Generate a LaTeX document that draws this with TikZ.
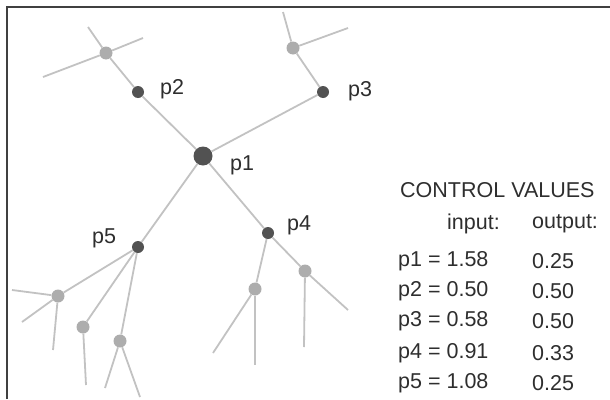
\documentclass[tikz,border=0pt]{standalone}
\usepackage{fontspec}
\setmainfont{Liberation Sans}
\usepackage{xcolor}
\usetikzlibrary{positioning}

\begin{document}
\begin{tikzpicture}[
  x=1pt, y=-1pt,
  hub/.style={circle, fill=black!68, inner sep=0pt, minimum size=12pt},
  bighub/.style={hub, minimum size=19pt},
  twig/.style={circle, fill=black!32, inner sep=0pt, minimum size=13pt},
  branch/.style={draw=black!24, line width=1.8pt},
  tag/.style={anchor=west, inner sep=0pt, font=\fontsize{21.5}{25}\selectfont, text=black!82},
  frameline/.style={draw=black!75, line width=2.2pt},
]
\useasboundingbox (0,0) rectangle (610,399);

% Frame (top and left edges)
\coordinate (fb) at (7,399);
\coordinate (fc) at (7,7);
\coordinate (fr) at (610,7);
\draw[frameline] (fb) -- (fc) -- (fr);

% Control points
\node[bighub] (p1) at (203,156) {};
\node[hub] (p2) at (138,92) {};
\node[hub] (p3) at (323,92) {};
\node[hub] (p4) at (268,233) {};
\node[hub] (p5) at (138,247) {};

% Outer joints
\node[twig] (j2) at (106,53) {};
\node[twig] (j3) at (293,48) {};
\node[twig] (j4a) at (255,289) {};
\node[twig] (j4b) at (305,271) {};
\node[twig] (j5a) at (58,296) {};
\node[twig] (j5b) at (83,327) {};
\node[twig] (j5c) at (120,341) {};

% Free ends
\coordinate (e2a) at (88,27);
\coordinate (e2b) at (43,77);
\coordinate (e2c) at (143,38);
\coordinate (e3a) at (283,12);
\coordinate (e3b) at (348,28);
\coordinate (e4a) at (213,353);
\coordinate (e4b) at (255,365);
\coordinate (e4c) at (304,347);
\coordinate (e4d) at (348,310);
\coordinate (e5a) at (12,290);
\coordinate (e5b) at (22,322);
\coordinate (e5c) at (53,350);
\coordinate (e5d) at (86,385);
\coordinate (e5e) at (105,388);
\coordinate (e5f) at (140,397);

% Main branches
\draw[branch] (p1) -- (p2);
\draw[branch] (p1) -- (p3);
\draw[branch] (p1) -- (p4);
\draw[branch] (p1) -- (p5);
\draw[branch] (p2) -- (j2);
\draw[branch] (p3) -- (j3);
\draw[branch] (p4) -- (j4a);
\draw[branch] (p4) -- (j4b);
\draw[branch] (p5) -- (j5a);
\draw[branch] (p5) -- (j5b);
\draw[branch] (p5) -- (j5c);

% Twigs
\draw[branch] (j2) -- (e2a);
\draw[branch] (e2b) -- (j2) -- (e2c);
\draw[branch] (j3) -- (e3a);
\draw[branch] (j3) -- (e3b);
\draw[branch] (j4a) -- (e4a);
\draw[branch] (j4a) -- (e4b);
\draw[branch] (j4b) -- (e4c);
\draw[branch] (j4b) -- (e4d);
\draw[branch] (j5a) -- (e5a);
\draw[branch] (j5a) -- (e5b);
\draw[branch] (j5a) -- (e5c);
\draw[branch] (j5b) -- (e5d);
\draw[branch] (j5c) -- (e5e);
\draw[branch] (j5c) -- (e5f);

% Point labels
\node[tag] (l1) at (230,165) {p1};
\node[tag] (l2) at (160,89) {p2};
\node[tag] (l3) at (348,91) {p3};
\node[tag] (l4) at (287,225) {p4};
\node[tag] (l5) at (92,238) {p5};

% Table of values
\node[tag] (title) at (400,190) {CONTROL VALUES};
\node[tag, anchor=east] (hin) at (500,224) {input:};
\node[tag] (hout) at (532,224) {output:};
\node[tag] (in1) at (398,261) {p1 = 1.58};
\node[tag] (in2) at (398,291) {p2 = 0.50};
\node[tag] (in3) at (398,321) {p3 = 0.58};
\node[tag] (in4) at (398,353) {p4 = 0.91};
\node[tag] (in5) at (398,383) {p5 = 1.08};
\node[tag] (out1) at (532,261) {0.25};
\node[tag] (out2) at (532,291) {0.50};
\node[tag] (out3) at (532,321) {0.50};
\node[tag] (out4) at (532,353) {0.33};
\node[tag] (out5) at (532,383) {0.25};

\end{tikzpicture}
\end{document}
